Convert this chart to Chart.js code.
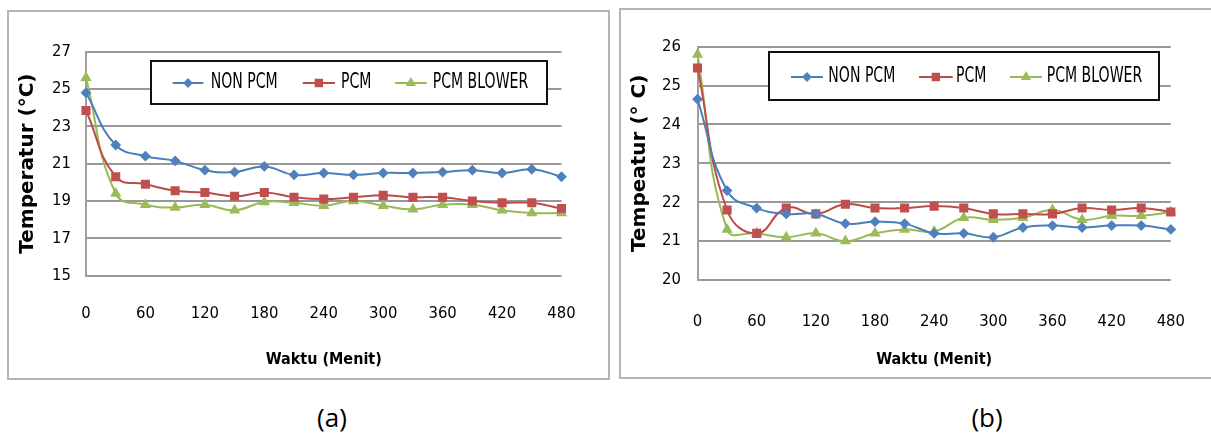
<!DOCTYPE html>
<html>
<head>
<meta charset="utf-8">
<script src="https://cdn.jsdelivr.net/npm/chart.js@4.4.1/dist/chart.umd.min.js"></script>
<style>
  body { margin: 0; background: #fff; width: 1211px; height: 435px; position: relative; overflow: hidden; }
  .box { position: absolute; border: 2px solid #b4b4b4; box-sizing: border-box; }
  canvas { position: absolute; }
  .cap { position: absolute; top: 399px; font: 26px 'Open Sans', sans-serif; color: #000; transform: translateX(-50%); }
</style>
</head>
<body>
<div class="box" style="left:7px; top:10px; width:603px; height:370px;"></div>
<div class="box" style="left:619px; top:8px; width:600px; height:371px;"></div>
<canvas id="chartA" width="598" height="365" style="left:9px; top:12px;"></canvas>
<canvas id="chartB" width="588" height="366" style="left:621px; top:10px;"></canvas>
<div class="cap" style="left:332px;">(a)</div>
<div class="cap" style="left:987px;">(b)</div>

<script>
// time in minutes
const minutes = [0, 30, 60, 90, 120, 150, 180, 210, 240, 270, 300, 330, 360, 390, 420, 450, 480];
const seriesNames = ["NON PCM", "PCM", "PCM BLOWER"];

// chart (a)
const nonPcmA = [24.8, 22.0, 21.4, 21.15, 20.65, 20.55, 20.85, 20.4, 20.5, 20.4, 20.5, 20.5, 20.55, 20.65, 20.5, 20.7, 20.3];
const pcmA = [23.85, 20.3, 19.9, 19.55, 19.45, 19.25, 19.45, 19.2, 19.1, 19.2, 19.3, 19.2, 19.2, 19.0, 18.9, 18.9, 18.6];
const blowerA = [25.6, 19.4, 18.8, 18.65, 18.8, 18.5, 18.95, 18.9, 18.75, 19.0, 18.75, 18.55, 18.8, 18.8, 18.5, 18.35, 18.35];

// chart (b)
const nonPcmB = [24.65, 22.3, 21.85, 21.7, 21.7, 21.45, 21.5, 21.45, 21.2, 21.2, 21.1, 21.35, 21.4, 21.35, 21.4, 21.4, 21.3];
const pcmB = [25.45, 21.8, 21.2, 21.85, 21.7, 21.95, 21.85, 21.85, 21.9, 21.85, 21.7, 21.7, 21.7, 21.85, 21.8, 21.85, 21.75];
const blowerB = [25.8, 21.3, 21.2, 21.1, 21.2, 21.0, 21.2, 21.3, 21.25, 21.6, 21.55, 21.6, 21.8, 21.55, 21.65, 21.65, 21.75];

const narrow = "'Liberation Sans Narrow', 'DejaVu Sans Condensed', sans-serif";

const styles = [
  { line: "#4a7ebb", fill: "#4f81bd", point: "rectRot", radius: 4 },
  { line: "#be4b48", fill: "#c0504d", point: "rect", radius: 5 },
  { line: "#98b954", fill: "#9bbb59", point: "triangle", radius: 4.5 }
];

function makeDatasets(lists) {
  return lists.map((vals, i) => ({
    label: seriesNames[i],
    data: minutes.map((m, j) => ({ x: m, y: vals[j] })),
    borderColor: styles[i].line,
    backgroundColor: styles[i].fill,
    pointBackgroundColor: styles[i].fill,
    pointBorderColor: styles[i].fill,
    pointStyle: styles[i].point,
    pointRadius: styles[i].radius,
    borderWidth: 2,
    tension: 0.45,
    clip: false
  }));
}

// legend drawn as a white box inside the plot, like the original
const boxLegend = {
  id: "boxLegend",
  afterDatasetsDraw(chart, args, opts) {
    const ctx = chart.ctx;
    ctx.save();
    ctx.fillStyle = "#fff";
    ctx.fillRect(opts.x, opts.y, opts.w, opts.h);
    ctx.strokeStyle = "#111";
    ctx.lineWidth = 2;
    ctx.strokeRect(opts.x, opts.y, opts.w, opts.h);
    chart.data.datasets.forEach((ds, i) => {
      const [x1, x2, tx] = opts.items[i];
      ctx.strokeStyle = ds.borderColor;
      ctx.lineWidth = 2;
      ctx.beginPath();
      ctx.moveTo(x1, opts.cy);
      ctx.lineTo(x2, opts.cy);
      ctx.stroke();
      ctx.fillStyle = ds.pointBackgroundColor;
      ctx.strokeStyle = ds.pointBorderColor;
      Chart.helpers.drawPoint(ctx, { pointStyle: ds.pointStyle, radius: ds.pointRadius - 0.5, rotation: 0, borderWidth: 1 }, (x1 + x2) / 2, opts.cy);
      ctx.save();
      ctx.translate(tx, opts.cy);
      ctx.scale(0.92, 1.2);
      ctx.fillStyle = "#000";
      ctx.font = "17px " + narrow;
      ctx.textBaseline = "middle";
      ctx.textAlign = "left";
      ctx.fillText(ds.label, 0, 0);
      ctx.restore();
    });
    ctx.restore();
  }
};

function makeChart(id, lists, cfg) {
  return new Chart(document.getElementById(id), {
    type: "line",
    data: { datasets: makeDatasets(lists) },
    plugins: [boxLegend],
    options: {
      responsive: false,
      animation: false,
      layout: { padding: { left: 0, top: cfg.padTop, right: cfg.padRight, bottom: 0 } },
      plugins: {
        legend: { display: false },
        tooltip: { enabled: false },
        boxLegend: cfg.legend
      },
      scales: {
        x: {
          type: "linear",
          min: 0,
          max: 480,
          grid: { display: false },
          border: { display: false },
          ticks: { stepSize: 60, padding: cfg.xTickPad, color: "#000", font: { family: narrow, size: 16.5 } },
          title: {
            display: true,
            text: "Waktu (Menit)",
            color: "#000",
            font: { family: narrow, size: 16, weight: "bold" },
            padding: { top: 0, bottom: cfg.xTitlePad }
          },
          afterFit: (s) => { s.height = cfg.xHeight; }
        },
        y: {
          min: cfg.yMin,
          max: cfg.yMax,
          grid: { color: "#989898", lineWidth: 2, drawTicks: false },
          border: { color: "#a0a0a0", width: 2 },
          ticks: { stepSize: cfg.yStep, padding: cfg.yTickPad, color: "#000", font: { family: narrow, size: 16.5 } },
          title: {
            display: true,
            text: cfg.yTitle,
            color: "#000",
            font: { family: "'DejaVu Sans', sans-serif", size: 20, weight: "bold" },
            padding: { top: 7, bottom: 0 }
          },
          afterFit: (s) => { s.width = cfg.yWidth; }
        }
      }
    }
  });
}

makeChart("chartA", [nonPcmA, pcmA, blowerA], {
  padTop: 39.7, padRight: 45.5, xHeight: 101.4, xTickPad: 20.6, xTitlePad: 7.5,
  yWidth: 77, yTickPad: 15, yMin: 15, yMax: 27, yStep: 2,
  yTitle: "Temperatur (\u00B0C)",
  legend: { x: 142, y: 49, w: 396, h: 43, cy: 71, items: [[163.7, 194.3, 201.7], [293.7, 326, 332], [386, 417.7, 423.7]] }
});

makeChart("chartB", [nonPcmB, pcmB, blowerB], {
  padTop: 36.7, padRight: 37.3, xHeight: 96, xTickPad: 24, xTitlePad: 6.5,
  yWidth: 76.5, yTickPad: 16.5, yMin: 20, yMax: 26, yStep: 1,
  yTitle: "Tempeatur (\u00B0 C)",
  legend: { x: 148, y: 42, w: 390, h: 48, cy: 67, items: [[170, 202, 207.3], [298, 331.7, 335], [389, 421, 425.7]] }
});
</script>
</body>
</html>
